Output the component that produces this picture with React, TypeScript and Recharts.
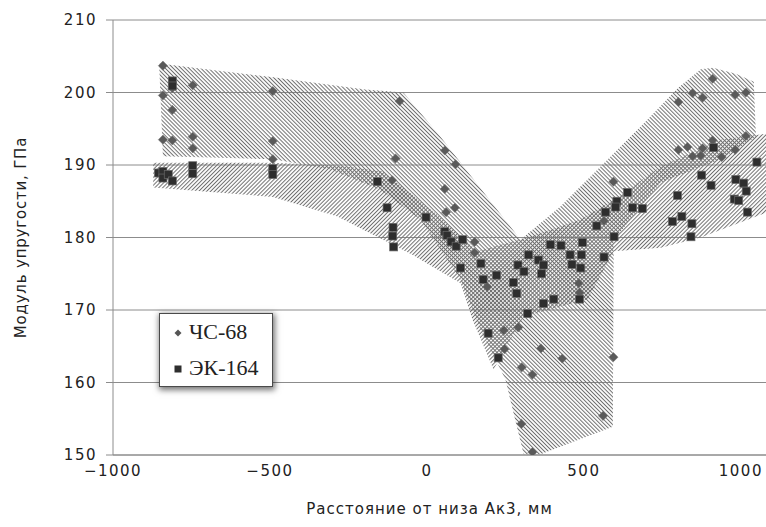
import React from 'react';
import { ScatterChart, Scatter, XAxis, YAxis, CartesianGrid, Legend, Label } from 'recharts';

// ЧС-68 measurements (distance from bottom of Ак3, mm ; modulus, GPa)
const chs68 = [
  { x: -841, y: 203.7 }, { x: -841, y: 199.6 }, { x: -811, y: 200.6 }, { x: -811, y: 197.6 },
  { x: -746, y: 201.0 }, { x: -491, y: 200.2 }, { x: -841, y: 193.5 }, { x: -811, y: 193.4 },
  { x: -746, y: 193.9 }, { x: -746, y: 192.3 }, { x: -491, y: 193.3 }, { x: -491, y: 190.8 },
  { x: -87, y: 198.8 }, { x: 57, y: 192.0 }, { x: -100, y: 190.9 }, { x: 91, y: 190.1 },
  { x: -111, y: 187.9 }, { x: 57, y: 186.7 }, { x: 89, y: 184.1 }, { x: 61, y: 183.5 },
  { x: 152, y: 179.4 }, { x: 152, y: 177.9 }, { x: 192, y: 173.2 }, { x: 484, y: 173.7 },
  { x: 486, y: 172.4 }, { x: 245, y: 167.2 }, { x: 291, y: 167.6 }, { x: 247, y: 164.6 },
  { x: 363, y: 164.7 }, { x: 431, y: 163.3 }, { x: 302, y: 162.1 }, { x: 336, y: 161.1 },
  { x: 301, y: 154.3 }, { x: 336, y: 150.4 }, { x: 594, y: 163.5 }, { x: 561, y: 155.4 },
  { x: 910, y: 201.9 }, { x: 846, y: 199.9 }, { x: 878, y: 199.3 }, { x: 982, y: 199.7 },
  { x: 1016, y: 200.0 }, { x: 801, y: 198.7 }, { x: 1016, y: 194.0 }, { x: 910, y: 193.4 },
  { x: 801, y: 192.1 }, { x: 830, y: 192.5 }, { x: 878, y: 192.3 }, { x: 846, y: 191.2 },
  { x: 872, y: 191.3 }, { x: 939, y: 191.1 }, { x: 982, y: 192.1 }, { x: 594, y: 187.7 },
  { x: 564, y: 182.3 },
];

// ЭК-164 measurements
const ek164 = [
  { x: -855, y: 188.9 }, { x: -841, y: 189.1 }, { x: -841, y: 188.2 }, { x: -824, y: 188.7 },
  { x: -811, y: 187.8 }, { x: -746, y: 189.9 }, { x: -746, y: 188.8 }, { x: -491, y: 189.5 },
  { x: -491, y: 188.7 }, { x: -811, y: 201.6 }, { x: -811, y: 200.9 },
  { x: -158, y: 187.7 }, { x: -127, y: 184.1 }, { x: -3, y: 182.8 }, { x: -108, y: 181.4 },
  { x: -109, y: 180.2 }, { x: -106, y: 178.7 }, { x: 57, y: 180.8 }, { x: 64, y: 180.3 },
  { x: 77, y: 179.4 }, { x: 93, y: 178.8 }, { x: 114, y: 179.7 }, { x: 107, y: 175.8 },
  { x: 172, y: 176.4 }, { x: 222, y: 174.8 }, { x: 179, y: 174.2 }, { x: 275, y: 173.8 },
  { x: 286, y: 172.3 }, { x: 290, y: 176.2 }, { x: 309, y: 175.3 }, { x: 324, y: 177.6 },
  { x: 355, y: 176.9 }, { x: 371, y: 176.2 }, { x: 365, y: 175.0 }, { x: 393, y: 179.0 },
  { x: 427, y: 178.9 }, { x: 456, y: 177.6 }, { x: 462, y: 176.3 },
  { x: 913, y: 192.4 }, { x: 1051, y: 190.4 }, { x: 875, y: 188.6 }, { x: 905, y: 187.2 },
  { x: 984, y: 188.0 }, { x: 1009, y: 187.5 }, { x: 1017, y: 186.4 }, { x: 979, y: 185.3 },
  { x: 993, y: 185.1 }, { x: 1021, y: 183.5 }, { x: 798, y: 185.8 }, { x: 812, y: 182.9 },
  { x: 782, y: 182.2 }, { x: 844, y: 181.9 }, { x: 841, y: 180.1 }, { x: 639, y: 186.2 },
  { x: 605, y: 185.0 }, { x: 601, y: 184.2 }, { x: 655, y: 184.1 }, { x: 686, y: 184.0 },
  { x: 569, y: 183.5 }, { x: 541, y: 181.6 }, { x: 596, y: 180.1 }, { x: 495, y: 179.3 },
  { x: 492, y: 177.6 }, { x: 564, y: 177.3 }, { x: 490, y: 175.8 }, { x: 486, y: 171.5 },
  { x: 404, y: 171.5 }, { x: 371, y: 170.9 }, { x: 321, y: 169.5 }, { x: 195, y: 166.8 },
  { x: 227, y: 163.4 },
];

// scatter envelopes (hatched areas)
const chs68Zone = [
  { x: -853, y: 204.0 }, { x: -490, y: 202.1 }, { x: -196, y: 200.4 }, { x: -75, y: 200.0 },
  { x: 43, y: 193.9 }, { x: 298, y: 179.7 }, { x: 426, y: 184.3 }, { x: 681, y: 195.3 },
  { x: 799, y: 200.6 }, { x: 872, y: 203.2 }, { x: 911, y: 203.4 }, { x: 984, y: 202.6 },
  { x: 1041, y: 201.5 }, { x: 1048, y: 193.9 }, { x: 936, y: 190.8 }, { x: 745, y: 187.6 },
  { x: 595, y: 179.7 }, { x: 592, y: 153.9 }, { x: 362, y: 150.1 }, { x: 308, y: 150.1 },
  { x: 250, y: 160.4 }, { x: 171, y: 167.3 }, { x: 107, y: 174.2 }, { x: -21, y: 182.5 },
  { x: -148, y: 186.6 }, { x: -308, y: 189.4 }, { x: -490, y: 190.8 }, { x: -841, y: 191.2 },
];

const ek164Zone = [
  { x: -872, y: 190.3 }, { x: -490, y: 190.3 }, { x: -276, y: 189.9 }, { x: -139, y: 189.1 },
  { x: 43, y: 182.8 }, { x: 161, y: 178.1 }, { x: 321, y: 180.0 }, { x: 490, y: 182.5 },
  { x: 595, y: 185.2 }, { x: 745, y: 189.8 }, { x: 936, y: 193.5 }, { x: 1080, y: 194.3 },
  { x: 1080, y: 183.4 }, { x: 872, y: 180.0 }, { x: 745, y: 178.6 }, { x: 595, y: 178.1 },
  { x: 512, y: 171.5 }, { x: 308, y: 169.1 }, { x: 212, y: 161.8 }, { x: 145, y: 168.7 },
  { x: 107, y: 173.7 }, { x: -45, y: 177.6 }, { x: -285, y: 182.9 }, { x: -490, y: 185.6 },
  { x: -872, y: 186.9 },
];

const xTicks = [-1000, -500, 0, 500, 1000];
const yTicks = [150, 160, 170, 180, 190, 200, 210];

const tickFont = { fontFamily: '"DejaVu Sans", sans-serif', fontSize: 15, fill: '#222', letterSpacing: 1.5 };

const zoneLine = (fillId: string) => (props: any) => {
  const pts = props.points || [];
  if (!pts.length) return <g />;
  const d = pts.map((p: any, i: number) => `${i ? 'L' : 'M'}${p.x},${p.y}`).join(' ') + ' Z';
  return <path d={d} fill={`url(#${fillId})`} stroke="none" />;
};

const Diamond = (props: any) => {
  const { cx, cy } = props;
  const r = 4.6;
  return (
    <polygon
      points={`${cx},${cy - r} ${cx + r},${cy} ${cx},${cy + r} ${cx - r},${cy}`}
      fill="#5a5a5a"
      stroke="#777"
      strokeWidth={0.6}
    />
  );
};

const Square = (props: any) => {
  const { cx, cy } = props;
  return <rect x={cx - 4} y={cy - 4} width={8} height={8} fill="#2e2e2e" stroke="#6a6a6a" strokeWidth={0.7} />;
};

const LegendBox = () => (
  <div
    style={{
      position: 'relative',
      width: 114,
      height: 74,
      boxSizing: 'border-box',
      border: '1px solid #4a4a4a',
      background: '#fff',
      boxShadow: '1px 2px 6px 1px rgba(0,0,0,0.55)',
      fontFamily: '"Liberation Serif", serif',
      fontSize: 22,
      color: '#222',
    }}
  >
    <svg width={10} height={10} style={{ position: 'absolute', left: 13, top: 14 }}>
      <polygon points="5,1.5 8.5,5 5,8.5 1.5,5" fill="#555" />
    </svg>
    <span style={{ position: 'absolute', left: 29, top: 5, lineHeight: '26px' }}>ЧС-68</span>
    <svg width={10} height={10} style={{ position: 'absolute', left: 13, top: 50 }}>
      <rect x={1.5} y={1.5} width={7} height={7} fill="#2e2e2e" />
    </svg>
    <span style={{ position: 'absolute', left: 29, top: 41, lineHeight: '26px' }}>ЭК-164</span>
  </div>
);

const fmt = (v: number) => (v < 0 ? `\u2212${Math.abs(v)}` : `${v}`);

export default function App() {
  return (
    <div style={{ position: 'absolute', left: 0, top: 0, width: 766, height: 527, background: '#fff' }}>
      <ScatterChart width={766} height={527} margin={{ top: 20, right: 0, bottom: 0, left: 0 }}>
        <defs>
          <pattern id="hatchChs" width={2.8} height={2.8} patternUnits="userSpaceOnUse" patternTransform="rotate(-45)">
            <line x1={1.4} y1={0} x2={1.4} y2={2.8} stroke="#6f6f6f" strokeWidth={1} />
          </pattern>
          <pattern id="hatchEk" width={2.8} height={2.8} patternUnits="userSpaceOnUse" patternTransform="rotate(45)">
            <line x1={1.4} y1={0} x2={1.4} y2={2.8} stroke="#6f6f6f" strokeWidth={1} />
          </pattern>
        </defs>
        <CartesianGrid vertical={false} stroke="#8c8c8c" />
        <XAxis
          type="number"
          dataKey="x"
          domain={[-1000, 1080]}
          ticks={xTicks}
          allowDataOverflow
          height={72}
          tickLine={false}
          tickSize={0}
          tickMargin={10}
          axisLine={{ stroke: '#8c8c8c' }}
          tick={tickFont}
          tickFormatter={fmt}
        >
          <Label
            value="Расстояние от низа Ак3, мм"
            position="insideBottom"
            offset={13}
            dx={-10}
            style={{ fontFamily: '"DejaVu Sans", sans-serif', fontSize: 15, fill: '#222', letterSpacing: 1 }}
          />
        </XAxis>
        <YAxis
          type="number"
          dataKey="y"
          domain={[150, 210]}
          ticks={yTicks}
          allowDataOverflow
          width={113}
          tickSize={7}
          tickMargin={9}
          tickLine={{ stroke: '#8c8c8c' }}
          axisLine={{ stroke: '#8c8c8c' }}
          tick={tickFont}
        >
          <Label
            value="Модуль упругости, ГПа"
            angle={-90}
            position="center"
            dx={-36}
            style={{ fontFamily: '"DejaVu Sans", sans-serif', fontSize: 15, fill: '#222', letterSpacing: 0.8, textAnchor: 'middle' }}
          />
        </YAxis>
        <Scatter
          name="zoneChs"
          data={chs68Zone}
          shape={() => <g />}
          line={zoneLine('hatchChs')}
          legendType="none"
          isAnimationActive={false}
        />
        <Scatter
          name="zoneEk"
          data={ek164Zone}
          shape={() => <g />}
          line={zoneLine('hatchEk')}
          legendType="none"
          isAnimationActive={false}
        />
        <Scatter name="ЧС-68" data={chs68} shape={Diamond} isAnimationActive={false} />
        <Scatter name="ЭК-164" data={ek164} shape={Square} isAnimationActive={false} />
        <Legend
          layout="vertical"
          align="center"
          verticalAlign="middle"
          content={() => <LegendBox />}
          wrapperStyle={{ left: 159, top: 313, width: 114, height: 74 }}
        />
      </ScatterChart>
    </div>
  );
}
